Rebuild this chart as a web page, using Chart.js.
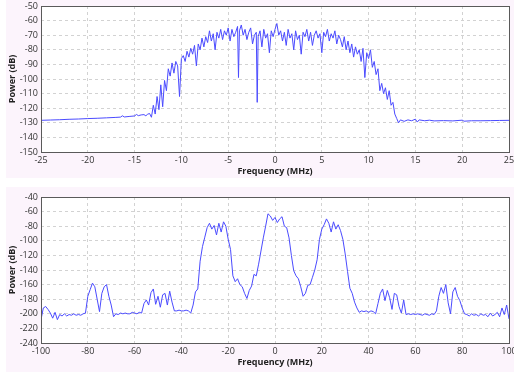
<!DOCTYPE html>
<html>
<head>
<meta charset="utf-8">
<script src="https://cdn.jsdelivr.net/npm/chart.js@4/dist/chart.umd.min.js"></script>
<style>
  body { margin: 0; background: #fff; width: 514px; height: 372px; position: relative; overflow: hidden; }
  .panel { position: absolute; left: 6px; width: 508px; background: #fcf4fc; }
  #topPanel { top: 0; height: 178px; }
  #bottomPanel { top: 187px; height: 185px; }
</style>
</head>
<body>
<div class="panel" id="topPanel"><canvas id="topChart" width="508" height="178"></canvas></div>
<div class="panel" id="bottomPanel"><canvas id="bottomChart" width="508" height="185"></canvas></div>
<script>
// top spectrum, -25..25 MHz
const topFreq = [
  -25, -24, -23, -22, -21, -20, -19, -18, -17, -16.5, -16.3, -16.1, -15.5, -15, -14.8, -14.6, -14.3, -14, -13.8, -13.6, -13.4, -13.2,
  -13.0, -12.8, -12.6, -12.4, -12.2, -12.0, -11.8, -11.6, -11.4, -11.2, -11.0, -10.8, -10.6, -10.4, -10.2, -10.0,
  -9.8, -9.6, -9.4, -9.2, -9.0, -8.8, -8.6, -8.4, -8.2, -8.0, -7.8, -7.6, -7.4, -7.2, -7.0,
  -6.8, -6.6, -6.4, -6.2, -6.0, -5.8, -5.6, -5.4, -5.2, -5.0, -4.8, -4.6, -4.4, -4.2, -4.0, -3.9,
  -3.8, -3.6, -3.4, -3.2, -3.0, -2.8, -2.6, -2.4, -2.2, -2.0, -1.9, -1.8, -1.6, -1.4, -1.2, -1.0,
  -0.8, -0.6, -0.4, -0.2, 0.0, 0.2, 0.4, 0.6, 0.8, 1.0, 1.2, 1.4, 1.6, 1.8, 2.0,
  2.2, 2.4, 2.6, 2.8, 3.0, 3.2, 3.4, 3.6, 3.8, 4.0, 4.2, 4.4, 4.6, 4.8, 5.0,
  5.2, 5.4, 5.6, 5.8, 6.0, 6.2, 6.4, 6.6, 6.8, 7.0, 7.2, 7.4, 7.6, 7.8, 8.0,
  8.2, 8.4, 8.6, 8.8, 9.0, 9.2, 9.4, 9.6, 9.8, 10.0, 10.2, 10.4, 10.6, 10.8, 11.0,
  11.2, 11.4, 11.6, 11.8, 12.0, 12.2, 12.4, 12.6, 12.8, 13.0, 13.2, 13.4,
  13.8, 14.2, 14.6, 15.0, 15.2, 15.4, 16, 16.5, 17, 18, 19, 20, 20.2, 21, 22, 23, 24, 25
];
const topPower = [
  -128.3, -128.1, -127.9, -127.6, -127.4, -127.1, -126.9, -126.6, -126.3, -126.1, -125.2, -126.0, -125.6, -125.3, -124.3, -125.1, -124.6, -124.4, -125.2, -124.1, -123.6, -126.2,
  -118, -124, -112, -121, -104, -119, -101, -108, -93, -98, -89, -96, -88, -91, -112, -86,
  -84, -88, -81, -85, -79, -83, -77, -91, -76, -80, -72, -78, -71, -75, -67,
  -74, -69, -80, -68, -72, -66, -73, -67, -70, -65, -74, -66, -71, -68, -64, -99,
  -67, -63, -70, -66, -73, -68, -65, -76, -70, -68, -116, -71, -67, -78, -66, -72,
  -69, -82, -67, -71, -66, -62, -70, -67, -74, -68, -77, -66, -72, -69, -80,
  -67, -73, -70, -83, -68, -71, -66, -74, -68, -77, -70, -67, -72, -69, -82,
  -68, -71, -66, -74, -69, -72, -67, -76, -70, -73, -78, -71, -80, -74, -82,
  -76, -85, -78, -83, -80, -88, -79, -99, -82, -86, -80, -92, -88, -97, -93,
  -108, -103, -110, -106, -114, -108, -118, -116, -124, -127, -130, -128,
  -129, -128, -128.6, -127.5, -129.5, -128, -128.6, -128.2, -128.7, -128.5, -128.7, -128.2, -128.9, -128.6, -128.6, -128.5, -128.4, -128.3
];
const topXTicks = [-25, -20, -15, -10, -5, 0, 5, 10, 15, 20, 25];
const topYTicks = [-150, -140, -130, -120, -110, -100, -90, -80, -70, -60, -50];

// bottom spectrum, -100..100 MHz
const bottomFreq = [
  -100, -99, -98, -97, -96, -95, -94, -93, -92, -91, -90, -89, -88, -87, -86, -85, -84, -83, -82, -81,
  -80, -79, -78, -77, -76, -75, -74, -73, -72, -71, -70, -69, -68, -67, -66, -65, -64, -63, -62, -61,
  -60, -59, -58, -57, -56, -55, -54, -53, -52, -51, -50, -49, -48, -47, -46, -45, -44, -43, -42, -41,
  -40, -39, -38, -37, -36, -35, -34, -33, -32, -31, -30, -29, -28, -27, -26, -25, -24, -23, -22, -21,
  -20, -19, -18, -17, -16, -15, -14, -13, -12, -11, -10, -9, -8, -7, -6, -5, -4, -3, -2, -1,
  0, 1, 2, 3, 4, 5, 6, 7, 8, 9, 10, 11, 12, 13, 14, 15, 16, 17, 18, 19,
  20, 21, 22, 23, 24, 25, 26, 27, 28, 29, 30, 31, 32, 33, 34, 35, 36, 37, 38, 39,
  40, 41, 42, 43, 44, 45, 46, 47, 48, 49, 50, 51, 52, 53, 54, 55, 56, 57, 58, 59,
  60, 61, 62, 63, 64, 65, 66, 67, 68, 69, 70, 71, 72, 73, 74, 75, 76, 77, 78, 79,
  80, 81, 82, 83, 84, 85, 86, 87, 88, 89, 90, 91, 92, 93, 94, 95, 96, 97, 98, 99, 100
];
const bottomPower = [
  -208, -192, -190, -194, -199, -206, -198, -208, -201, -203, -200, -203, -201, -202, -200, -202, -201, -202, -200, -199,
  -176, -167, -158, -163, -180, -197, -172, -163, -160, -176, -188, -204, -200, -201, -199, -200, -199, -200, -200, -198,
  -199, -200, -198, -199, -186, -181, -188, -171, -166, -187, -176, -191, -174, -172, -188, -169, -184, -196, -196, -195,
  -196, -196, -195, -196, -199, -188, -170, -166, -128, -108, -95, -82, -76, -84, -79, -92, -76, -88, -74, -80,
  -98, -112, -148, -156, -152, -160, -163, -172, -179, -168, -162, -146, -148, -132, -114, -96, -80, -63, -66, -72,
  -68, -75, -70, -67, -80, -82, -96, -120, -141, -148, -152, -163, -176, -172, -161, -160, -150, -140, -126, -98,
  -84, -78, -70, -76, -88, -74, -84, -78, -86, -98, -118, -142, -165, -172, -184, -192, -198, -196, -197, -196,
  -198, -196, -197, -200, -186, -172, -166, -182, -168, -178, -194, -172, -174, -190, -199, -181, -201, -200, -201, -200,
  -201, -200, -201, -202, -200, -201, -202, -200, -201, -196, -176, -164, -172, -160, -185, -200, -170, -164, -176, -182,
  -192, -200, -201, -203, -200, -202, -201, -203, -200, -202, -201, -204, -199, -203, -201, -198, -204, -192, -201, -188, -207
];
const bottomXTicks = [-100, -80, -60, -40, -20, 0, 20, 40, 60, 80, 100];
const bottomYTicks = [-240, -220, -200, -180, -160, -140, -120, -100, -80, -60, -40];

const tickFont = { family: 'Open Sans', size: 9 };
const titleFont = { family: 'Open Sans', size: 9, weight: 'bold' };

// white plot area + dark frame
const plotFrame = {
  id: 'plotFrame',
  beforeDraw(chart) {
    const a = chart.chartArea;
    chart.ctx.save();
    chart.ctx.fillStyle = '#ffffff';
    chart.ctx.fillRect(a.left, a.top, a.right - a.left, a.bottom - a.top);
    chart.ctx.restore();
  },
  afterDraw(chart) {
    const a = chart.chartArea;
    const ctx = chart.ctx;
    ctx.save();
    ctx.strokeStyle = '#5a5a5a';
    ctx.lineWidth = 1;
    ctx.strokeRect(Math.round(a.left) + 0.5, Math.round(a.top) + 0.5, Math.round(a.right - a.left), Math.round(a.bottom - a.top));
    ctx.restore();
  }
};

function makeChart(id, freq, power, xTicks, yTicks, pad) {
  return new Chart(document.getElementById(id), {
    type: 'line',
    data: {
      datasets: [{
        data: freq.map((f, i) => ({ x: f, y: power[i] })),
        borderColor: '#4b4bff',
        borderWidth: 1,
        pointRadius: 0,
        tension: 0,
        fill: false,
      }],
    },
    options: {
      responsive: false,
      animation: false,
      layout: { padding: pad },
      plugins: { legend: { display: false }, tooltip: { enabled: false } },
      scales: {
        x: {
          type: 'linear',
          min: xTicks[0],
          max: xTicks[xTicks.length - 1],
          afterBuildTicks: (s) => { s.ticks = xTicks.map(v => ({ value: v })); },
          afterFit: (s) => { s.height = 26; s.paddingLeft = 0; s.paddingRight = 0; },
          border: { display: false, dash: [3, 3] },
          grid: { color: '#d2d2d2', drawTicks: false },
          ticks: { font: tickFont, color: '#333', padding: 3, maxRotation: 0, autoSkip: false },
          title: { display: true, text: 'Frequency (MHz)', font: titleFont, color: '#222', padding: { top: 0, bottom: 1 } },
        },
        y: {
          min: yTicks[0],
          max: yTicks[yTicks.length - 1],
          afterBuildTicks: (s) => { s.ticks = yTicks.map(v => ({ value: v })); },
          afterFit: (s) => { s.width = 35; s.paddingTop = 0; s.paddingBottom = 0; },
          border: { display: false, dash: [3, 3] },
          grid: { color: '#d2d2d2', drawTicks: false },
          ticks: { font: tickFont, color: '#333', padding: 3, autoSkip: false },
          title: { display: true, text: 'Power (dB)', font: titleFont, color: '#222', padding: { top: 1, bottom: 0 } },
        },
      },
    },
    plugins: [plotFrame],
  });
}

makeChart('topChart', topFreq, topPower, topXTicks, topYTicks, { top: 6, right: 5, bottom: 0, left: 0 });
makeChart('bottomChart', bottomFreq, bottomPower, bottomXTicks, bottomYTicks, { top: 10, right: 5, bottom: 3, left: 0 });
</script>
</body>
</html>
